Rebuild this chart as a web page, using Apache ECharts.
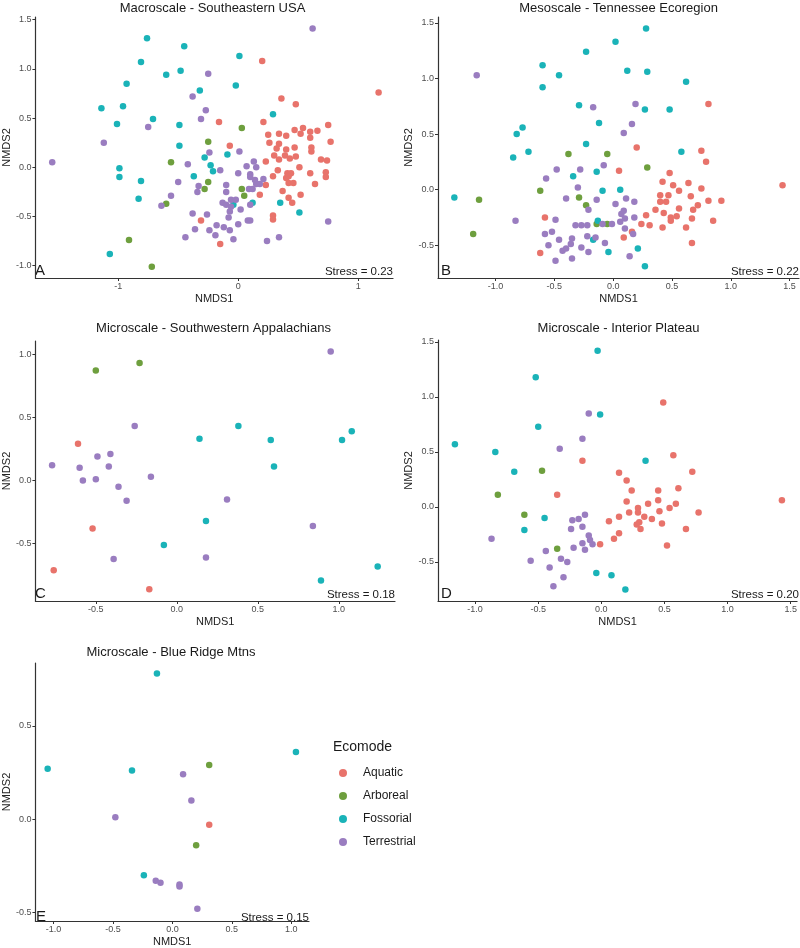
<!DOCTYPE html>
<html><head><meta charset="utf-8">
<script src="https://cdn.jsdelivr.net/npm/echarts@6/dist/echarts.min.js"></script>
<style>html,body{margin:0;padding:0;background:#fff}#c{width:800px;height:948px}</style>
</head><body><div id="c"></div>
<script>
const groups = ['Aquatic','Arboreal','Fossorial','Terrestrial'];
const titles = ['Macroscale - Southeastern USA','Mesoscale - Tennessee Ecoregion','Microscale - Southwestern Appalachians','Microscale - Interior Plateau','Microscale - Blue Ridge Mtns'];
const letters = ['A','B','C','D','E'];
const stress = ['Stress = 0.23','Stress = 0.22','Stress = 0.18','Stress = 0.20','Stress = 0.15'];

// Panel A
const A_aquatic = [[0.20,1.08],[1.17,0.76],[0.36,0.70],[0.48,0.64],[-0.16,0.46],[0.21,0.46],[0.47,0.38],[0.54,0.40],[0.60,0.36],[0.66,0.37],[0.75,0.43],[0.25,0.33],[0.34,0.34],[0.40,0.32],[0.52,0.34],[0.60,0.30],[0.77,0.26],[-0.07,0.22],[0.26,0.25],[0.34,0.24],[0.32,0.19],[0.40,0.18],[0.47,0.20],[0.48,0.11],[0.61,0.20],[0.61,0.16],[0.30,0.12],[0.39,0.12],[0.34,0.08],[0.43,0.09],[0.51,0.00],[0.23,0.06],[0.69,0.08],[0.74,0.07],[0.60,-0.06],[0.73,-0.05],[0.73,-0.10],[0.64,-0.17],[0.41,-0.06],[0.44,-0.06],[0.33,-0.03],[0.29,-0.09],[0.40,-0.11],[0.42,-0.16],[0.46,-0.16],[0.23,-0.18],[0.37,-0.24],[0.52,-0.28],[0.18,-0.28],[0.42,-0.31],[0.45,-0.36],[0.29,-0.49],[0.29,-0.53],[-0.31,-0.54],[-0.15,-0.78],[0.42,-0.09]];
const A_arboreal = [[0.03,0.40],[-0.25,0.26],[-0.56,0.05],[-0.25,-0.15],[-0.28,-0.22],[0.03,-0.22],[0.05,-0.29],[-0.60,-0.37],[-0.91,-0.74],[-0.72,-1.01]];
const A_fossorial = [[-0.76,1.31],[-0.45,1.23],[-0.81,1.07],[0.01,1.13],[-0.60,0.94],[-0.48,0.98],[-0.93,0.85],[-0.02,0.83],[-0.32,0.78],[-1.14,0.60],[-0.96,0.62],[-0.71,0.49],[-1.01,0.44],[-0.49,0.43],[0.29,0.54],[-0.49,0.22],[-0.28,0.10],[-0.09,0.13],[-0.99,-0.01],[-0.99,-0.10],[-0.23,0.02],[-0.21,-0.04],[-0.37,-0.09],[-0.81,-0.14],[-0.83,-0.32],[-0.04,-0.38],[0.12,-0.36],[0.35,-0.36],[0.51,-0.46],[-1.07,-0.88]];
const A_terrestrial = [[0.62,1.41],[-0.25,0.95],[-0.38,0.72],[-0.27,0.58],[-0.31,0.49],[-0.75,0.41],[-1.12,0.25],[-1.55,0.05],[-0.24,0.15],[0.01,0.16],[-0.42,0.03],[0.13,0.06],[-0.15,-0.03],[0.00,-0.06],[0.07,0.01],[0.15,0.00],[0.10,-0.07],[0.10,-0.10],[-0.50,-0.15],[-0.33,-0.19],[-0.10,-0.18],[0.14,-0.13],[0.21,-0.12],[0.15,-0.17],[0.18,-0.17],[-0.34,-0.25],[-0.10,-0.25],[0.09,-0.22],[0.12,-0.22],[-0.56,-0.29],[-0.64,-0.39],[-0.06,-0.33],[-0.02,-0.33],[-0.13,-0.36],[-0.10,-0.38],[-0.06,-0.40],[0.02,-0.43],[0.10,-0.38],[-0.38,-0.47],[-0.26,-0.48],[-0.07,-0.45],[-0.08,-0.51],[-0.18,-0.59],[0.00,-0.58],[0.08,-0.54],[0.10,-0.54],[-0.36,-0.63],[-0.24,-0.64],[-0.12,-0.61],[-0.07,-0.64],[-0.19,-0.69],[-0.04,-0.73],[-0.44,-0.71],[0.24,-0.75],[0.34,-0.71],[0.75,-0.55]];

// Panel B
const B_aquatic = [[0.81,0.77],[0.20,0.38],[0.75,0.35],[0.79,0.25],[0.05,0.17],[0.48,0.15],[0.42,0.07],[0.51,0.04],[0.64,0.06],[0.56,-0.01],[0.75,0.01],[1.44,0.04],[0.40,-0.05],[0.47,-0.05],[0.66,-0.06],[0.40,-0.11],[0.45,-0.11],[0.81,-0.10],[0.92,-0.10],[0.72,-0.14],[0.56,-0.17],[0.68,-0.18],[0.36,-0.18],[0.43,-0.21],[0.28,-0.23],[0.54,-0.24],[0.49,-0.25],[0.49,-0.28],[0.67,-0.26],[0.85,-0.28],[0.24,-0.31],[0.31,-0.32],[0.42,-0.34],[0.62,-0.34],[0.16,-0.38],[0.09,-0.43],[0.67,-0.48],[-0.58,-0.25],[-0.62,-0.57]];
const B_arboreal = [[-0.38,0.32],[-0.05,0.32],[0.29,0.20],[-0.62,-0.01],[-0.29,-0.07],[-1.14,-0.09],[-0.23,-0.14],[-0.14,-0.31],[-0.05,-0.31],[-1.19,-0.40]];
const B_fossorial = [[0.28,1.45],[0.02,1.33],[-0.23,1.24],[-0.60,1.12],[0.12,1.07],[0.29,1.06],[-0.46,1.03],[0.62,0.97],[-0.60,0.92],[-0.29,0.76],[0.27,0.72],[0.48,0.72],[-0.12,0.60],[-0.77,0.56],[-0.82,0.50],[-0.23,0.41],[-0.72,0.34],[0.58,0.34],[-0.85,0.29],[-0.34,0.12],[-0.14,0.16],[-0.09,-0.01],[0.06,0.00],[-1.35,-0.07],[-0.13,-0.28],[-0.17,-0.45],[0.21,-0.53],[-0.04,-0.56],[0.27,-0.69]];
const B_terrestrial = [[-1.16,1.03],[-0.17,0.74],[0.19,0.77],[0.16,0.59],[0.09,0.51],[-0.08,0.22],[-0.28,0.18],[-0.48,0.18],[-0.57,0.10],[-0.30,0.02],[-0.40,-0.08],[-0.14,-0.09],[0.02,-0.13],[0.11,-0.08],[0.18,-0.11],[-0.21,-0.18],[0.09,-0.19],[0.07,-0.22],[-0.83,-0.28],[-0.49,-0.27],[-0.32,-0.32],[-0.27,-0.32],[-0.22,-0.32],[-0.09,-0.31],[-0.01,-0.31],[0.06,-0.29],[0.10,-0.26],[0.18,-0.25],[0.10,-0.35],[-0.58,-0.40],[-0.52,-0.38],[-0.46,-0.45],[-0.35,-0.44],[-0.55,-0.50],[-0.43,-0.55],[-0.40,-0.53],[-0.36,-0.49],[-0.27,-0.52],[-0.22,-0.42],[-0.21,-0.56],[-0.15,-0.43],[-0.07,-0.48],[-0.35,-0.62],[-0.49,-0.64],[0.14,-0.60],[0.17,-0.40]];

// Panel C
const C_aquatic = [[-0.61,0.29],[-0.52,-0.38],[-0.76,-0.71],[-0.17,-0.86]];
const C_arboreal = [[-0.50,0.87],[-0.23,0.93]];
const C_fossorial = [[0.38,0.43],[0.14,0.33],[0.58,0.32],[1.02,0.32],[1.08,0.39],[0.60,0.11],[0.18,-0.32],[-0.08,-0.51],[1.24,-0.68],[0.89,-0.79]];
const C_terrestrial = [[0.95,1.02],[-0.26,0.43],[-0.77,0.12],[-0.60,0.10],[-0.49,0.19],[-0.41,0.21],[-0.42,0.11],[-0.58,0.00],[-0.50,0.01],[-0.16,0.03],[-0.36,-0.05],[-0.31,-0.16],[0.31,-0.15],[0.84,-0.36],[-0.39,-0.62],[0.18,-0.61]];

// Panel D
const D_aquatic = [[0.49,0.95],[0.57,0.47],[-0.15,0.42],[0.72,0.32],[0.14,0.31],[0.20,0.24],[-0.35,0.11],[0.24,0.15],[0.45,0.15],[0.61,0.17],[0.20,0.05],[0.45,0.06],[0.37,0.03],[0.59,0.03],[0.29,-0.01],[0.22,-0.05],[0.29,-0.05],[0.46,-0.04],[0.54,-0.01],[0.77,-0.05],[0.06,-0.13],[0.14,-0.09],[0.34,-0.09],[0.40,-0.11],[0.30,-0.14],[0.28,-0.16],[0.31,-0.20],[0.48,-0.15],[0.67,-0.20],[0.14,-0.24],[0.10,-0.29],[-0.01,-0.34],[0.52,-0.35],[1.43,0.06]];
const D_arboreal = [[-0.47,0.33],[-0.82,0.11],[-0.61,-0.07],[-0.35,-0.38]];
const D_fossorial = [[-0.03,1.42],[-0.52,1.18],[-0.01,0.84],[-0.50,0.73],[-1.16,0.57],[-0.84,0.50],[-0.69,0.32],[0.35,0.42],[-0.45,-0.10],[-0.61,-0.21],[-0.04,-0.60],[0.08,-0.62],[0.19,-0.75]];
const D_terrestrial = [[-0.10,0.85],[-0.15,0.62],[-0.33,0.53],[-0.13,-0.07],[-0.18,-0.11],[-0.23,-0.12],[-0.24,-0.20],[-0.15,-0.18],[-0.10,-0.26],[-0.09,-0.30],[-0.15,-0.33],[-0.07,-0.34],[-0.22,-0.37],[-0.13,-0.39],[-0.87,-0.29],[-0.44,-0.40],[-0.56,-0.49],[-0.32,-0.47],[-0.27,-0.50],[-0.41,-0.55],[-0.30,-0.64],[-0.38,-0.72]];

// Panel E
const E_aquatic = [[0.31,-0.03]];
const E_arboreal = [[0.31,0.29],[0.20,-0.14]];
const E_fossorial = [[-0.13,0.78],[1.04,0.36],[-1.05,0.27],[-0.34,0.26],[-0.24,-0.30]];
const E_terrestrial = [[0.09,0.24],[0.16,0.10],[-0.48,0.01],[-0.14,-0.33],[-0.10,-0.34],[0.06,-0.35],[0.06,-0.36],[0.21,-0.48]];

// Tick values
const A_xticks = [-1,0,1], A_yticks = [-1,-0.5,0,0.5,1,1.5];
const B_xticks = [-1,-0.5,0,0.5,1,1.5], B_yticks = [-0.5,0,0.5,1,1.5];
const C_xticks = [-0.5,0,0.5,1], C_yticks = [-0.5,0,0.5,1];
const D_xticks = [-1,-0.5,0,0.5,1,1.5], D_yticks = [-0.5,0,0.5,1,1.5];
const E_xticks = [-1,-0.5,0,0.5,1], E_yticks = [-0.5,0,0.5];

const colors = ['#E8736B','#6E9F3E','#1AB3B8','#9A7DC0'];
const panelData = [
  [A_aquatic,A_arboreal,A_fossorial,A_terrestrial],
  [B_aquatic,B_arboreal,B_fossorial,B_terrestrial],
  [C_aquatic,C_arboreal,C_fossorial,C_terrestrial],
  [D_aquatic,D_arboreal,D_fossorial,D_terrestrial],
  [E_aquatic,E_arboreal,E_fossorial,E_terrestrial]
];
const xTicks = [A_xticks,B_xticks,C_xticks,D_xticks,E_xticks];
const yTicks = [A_yticks,B_yticks,C_yticks,D_yticks,E_yticks];

// layout
const rects = [
  {left:32, top:17, width:361, height:261},
  {left:438, top:17, width:361, height:261},
  {left:32, top:341, width:363, height:260},
  {left:438, top:340, width:361, height:261},
  {left:33, top:663, width:276, height:261}
];
const xr = [[-1.69,1.29],[-1.489,1.58],[-0.873,1.347],[-1.294,1.55],[-1.153,1.15]];
const yr = [[-1.125,1.527],[-0.795,1.553],[-0.953,1.103],[-0.855,1.518],[-0.545,0.836]];
const titleY = [1.5, 1.5, 321.5, 321.5, 645.5];

const FONT = '"Liberation Sans", Arial, sans-serif';
const grid = [], xAxis = [], yAxis = [], series = [], title = [], graphic = [];
rects.forEach((r,i) => {
  grid.push(Object.assign({containLabel:false}, r));
  const axCommon = {
    axisLine:{show:true, onZero:false, lineStyle:{color:'#333', width:1.2}},
    axisTick:{show:true, length:3, lineStyle:{color:'#333', width:1}},
    splitLine:{show:false},
    nameTextStyle:{fontFamily:FONT, fontSize:11, color:'#222'}
  };
  const xfmt = i === 0 ? (v => String(Math.round(v))) : (v => v.toFixed(1));
  xAxis.push(Object.assign({}, axCommon, {
    type:'value', gridIndex:i, min:xr[i][0], max:xr[i][1],
    name:'NMDS1', nameLocation:'middle', nameGap:15,
    axisTick:Object.assign({}, axCommon.axisTick, {customValues:xTicks[i]}),
    axisLabel:{customValues:xTicks[i], formatter:xfmt, fontFamily:FONT, fontSize:9, color:'#4d4d4d', margin:4}
  }));
  yAxis.push(Object.assign({}, axCommon, {
    type:'value', gridIndex:i, min:yr[i][0], max:yr[i][1],
    name:'NMDS2', nameLocation:'middle', nameGap:21,
    axisTick:Object.assign({}, axCommon.axisTick, {customValues:yTicks[i]}),
    axisLabel:{customValues:yTicks[i], formatter:v => v.toFixed(1), fontFamily:FONT, fontSize:9, color:'#4d4d4d', margin:4}
  }));
  title.push({
    text:titles[i], left:r.left + r.width/2, top:titleY[i], textAlign:'center', padding:0,
    textStyle:{fontFamily:FONT, fontSize:13, fontWeight:'normal', color:'#1a1a1a'}
  });
  panelData[i].forEach((d,k) => {
    series.push({
      type:'scatter', name:groups[k], xAxisIndex:i, yAxisIndex:i, data:d,
      symbol:'circle', symbolSize:6.5, itemStyle:{color:colors[k], opacity:1},
      emphasis:{disabled:true}
    });
  });
  graphic.push({type:'text', x:r.left + r.width, y:r.top + r.height - 0.5,
    style:{text:stress[i], align:'right', verticalAlign:'bottom', font:'11.5px ' + FONT, fill:'#1a1a1a'}});
  graphic.push({type:'text', x:r.left + 3, y:r.top + r.height,
    style:{text:letters[i], align:'left', verticalAlign:'bottom', font:'15px ' + FONT, fill:'#1a1a1a'}});
});
graphic.push({type:'text', x:333, y:747, style:{text:'Ecomode', align:'left', verticalAlign:'middle', font:'14px ' + FONT, fill:'#1a1a1a'}});

const chart = echarts.init(document.getElementById('c'), null, {renderer:'canvas'});
chart.setOption({
  animation:false,
  backgroundColor:'#fff',
  title, grid, xAxis, yAxis, series, graphic,
  legend:{
    data:groups, orient:'vertical', left:334, top:762, icon:'circle',
    itemWidth:8, itemHeight:8, itemGap:11,
    textStyle:{fontFamily:FONT, fontSize:12, color:'#1a1a1a', padding:[0,0,0,11]}
  }
});
</script></body></html>
